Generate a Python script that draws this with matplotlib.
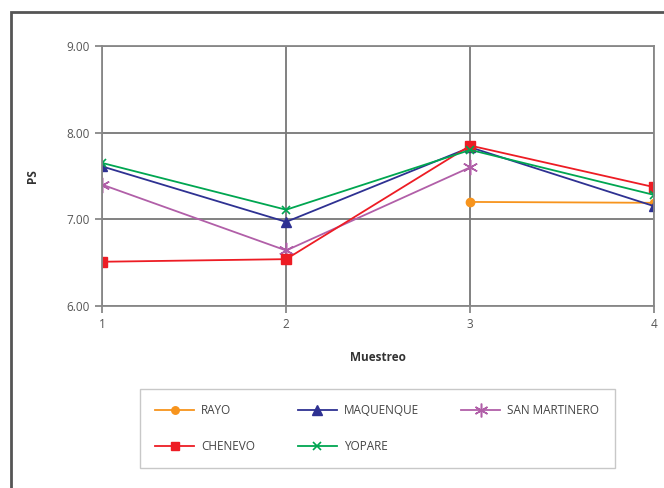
import numpy as np
import matplotlib
matplotlib.use("Agg")
import matplotlib.pyplot as plt
from matplotlib.patches import Rectangle

plt.rcParams['font.family'] = ['Open Sans', 'DejaVu Sans']

muestreo = [1, 2, 3, 4]
rayo = [np.nan, np.nan, 7.20, 7.19]
maquenque = [7.61, 6.97, 7.83, 7.15]
san_martinero = [7.40, 6.64, 7.60, np.nan]
chenevo = [6.51, 6.54, 7.85, 7.37]
yopare = [7.65, 7.11, 7.80, 7.28]

fig = plt.figure(figsize=(6.64, 4.88), dpi=100)
ax = fig.add_axes([0.1536, 0.373, 0.832, 0.533])

# outer frame (cut off at right and bottom, like the source)
fig.patches.append(Rectangle((0.017, -0.1), 1.2, 1.075, transform=fig.transFigure,
                             fill=False, edgecolor="#555555", linewidth=2))

ax.plot(muestreo, rayo, color="#F7941D", marker="o", markersize=6, lw=1.3, label="RAYO")
ax.plot(muestreo, maquenque, color="#2E3192", marker="^", markersize=7.5, lw=1.3, label="MAQUENQUE")
ax.plot(muestreo, san_martinero, color="#B15FA8", marker=(6, 2, 0), markersize=11, mew=1.1, lw=1.3,
        label="SAN MARTINERO")
ax.plot(muestreo, chenevo, color="#ED1C24", marker="s", markersize=7, lw=1.3, label="CHENEVO")
ax.plot(muestreo, yopare, color="#00A651", marker="x", markersize=6, mew=1.2, lw=1.3, label="YOPARE")

ax.set_xlim(1, 4)
ax.set_ylim(6, 9)
ax.set_xticks(muestreo)
ax.set_yticks([6, 7, 8, 9])
ax.set_yticklabels(["6.00", "7.00", "8.00", "9.00"])
ax.grid(True, color="#777777", linewidth=1.3)
ax.set_axisbelow(True)
for s in ax.spines.values():
    s.set_color("#888888")
    s.set_linewidth(1.3)
ax.tick_params(axis="both", colors="#888888", labelcolor="#555555", labelsize=8.5,
               length=5, width=1.3)
ax.tick_params(axis="x", pad=4)

ax.set_xlabel("Muestreo", fontsize=8.5, fontweight="bold", color="#333333", labelpad=14)
ax.set_ylabel("PS", fontsize=8.5, fontweight="bold", color="#333333", labelpad=20)

handles, labels = ax.get_legend_handles_labels()
order = [0, 3, 1, 4, 2]
leg = fig.legend([handles[i] for i in order], [labels[i] for i in order], ncol=3,
                 loc="center", bbox_to_anchor=(0.568, 0.122), frameon=True, fancybox=False,
                 fontsize=8.5, handlelength=3.3, handletextpad=0.6, columnspacing=3.6,
                 borderpad=1.3, labelspacing=1.9, markerscale=0.9)
leg.get_frame().set_edgecolor("#bbbbbb")
leg.get_frame().set_linewidth(1)
for t in leg.get_texts():
    t.set_color("#444444")

fig.savefig("out.png", dpi=100)
